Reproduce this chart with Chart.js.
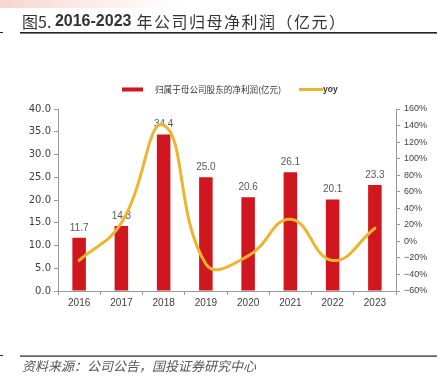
<!DOCTYPE html>
<html><head><meta charset="utf-8">
<script src="https://cdn.jsdelivr.net/npm/chart.js@4/dist/chart.umd.min.js"></script>
<style>html,body{margin:0;padding:0;background:#fff;} #c{display:block;}</style>
</head><body>
<canvas id="c" width="447" height="380"></canvas>
<script>
const categories = ['2016', '2017', '2018', '2019', '2020', '2021', '2022', '2023'];
const profitValues = [11.7, 14.3, 34.4, 25.0, 20.6, 26.1, 20.1, 23.3];
const yoyValues = [-23.0, 22.2, 140.6, -27.3, -17.6, 26.7, -23.0, 15.9];
const profitLabel = '归属于母公司股东的净利润(亿元)';
const yoyLabel = 'yoy';
const titlePrefix = '图5. ';
const titleYears = '2016-2023';
const titleRest = ' 年公司归母净利润（亿元）';
const sourceText = '资料来源：公司公告，国投证券研究中心';

const RED = '#D0161F';
const GOLD = '#EDB52F';
const CJK = '"Noto Sans CJK SC", "Liberation Sans", sans-serif';

const decor = {
  id: 'decor',
  beforeDraw(chart) {
    const ctx = chart.ctx;
    ctx.save();
    ctx.fillStyle = '#fff';
    ctx.fillRect(0, 0, chart.width, chart.height);
    const g = ctx.createLinearGradient(0, 0, 200, 0);
    g.addColorStop(0, 'rgba(238,160,150,0.45)');
    g.addColorStop(0.6, 'rgba(245,200,190,0.25)');
    g.addColorStop(1, 'rgba(255,255,255,0)');
    ctx.fillStyle = g;
    ctx.fillRect(0, 0, 200, 8);
    // title
    ctx.textBaseline = 'middle';
    ctx.fillStyle = '#333';
    let x = 22;
    const y = 21.5;
    ctx.font = '16px ' + CJK;
    ctx.fillText(titlePrefix, x, y);
    x += ctx.measureText(titlePrefix).width;
    ctx.font = 'bold 16px "Liberation Sans", sans-serif';
    ctx.fillText(titleYears, x, y);
    x += ctx.measureText(titleYears).width;
    ctx.font = '16px ' + CJK;
    ctx.letterSpacing = '1.5px';
    ctx.fillText(titleRest, x, y);
    ctx.letterSpacing = '0px';
    // rules
    ctx.fillStyle = '#222';
    ctx.fillRect(20, 32, 417, 1.6);
    ctx.fillRect(0, 32, 3, 1);
    ctx.fillRect(20, 355.5, 417, 1.2);
    ctx.fillRect(0, 355, 3, 1);
    // source
    ctx.fillStyle = '#555';
    ctx.font = 'italic 13px ' + CJK;
    ctx.fillText(sourceText, 22, 366);
    // legend
    ctx.fillStyle = RED;
    ctx.fillRect(122, 87.5, 21, 4);
    ctx.fillStyle = '#333';
    ctx.font = '8.6px ' + CJK;
    ctx.fillText(profitLabel, 155, 89.5);
    ctx.strokeStyle = GOLD;
    ctx.lineWidth = 3;
    ctx.beginPath();
    ctx.moveTo(299, 89.5);
    ctx.lineTo(323, 89.5);
    ctx.stroke();
    ctx.font = 'bold 8.5px "Liberation Sans", sans-serif';
    ctx.fillText(yoyLabel, 323, 90);
    ctx.restore();
  },
  beforeDatasetsDraw(chart) {
    const ctx = chart.ctx;
    const meta = chart.getDatasetMeta(0);
    ctx.save();
    ctx.fillStyle = '#595959';
    ctx.font = '10px "Liberation Sans", sans-serif';
    ctx.textAlign = 'center';
    ctx.textBaseline = 'middle';
    meta.data.forEach((el, i) => {
      ctx.fillText(profitValues[i].toFixed(1), el.x, el.y - 10);
    });
    ctx.restore();
  }
};

new Chart(document.getElementById('c'), {
  data: {
    labels: categories,
    datasets: [
      {
        type: 'bar', label: profitLabel, data: profitValues, yAxisID: 'y',
        backgroundColor: RED, barPercentage: 0.32, categoryPercentage: 1, order: 1
      },
      {
        type: 'line', label: yoyLabel, data: yoyValues, yAxisID: 'y1',
        borderColor: GOLD, borderWidth: 3, pointRadius: 0, tension: 0.45,
        fill: false, order: 0, borderCapStyle: 'round'
      }
    ]
  },
  options: {
    responsive: false,
    animation: false,
    devicePixelRatio: 1,
    layout: { padding: { top: 109, left: 0, right: 0, bottom: 0 } },
    plugins: { legend: { display: false }, tooltip: { enabled: false } },
    scales: {
      x: {
        offset: true,
        afterFit(s) { s.height = 89; },
        grid: { display: true, drawOnChartArea: false, drawTicks: true, tickLength: 4, offset: true, color: '#999' },
        border: { display: true, color: '#999' },
        ticks: { color: '#404040', font: { size: 10, family: '"Liberation Sans", sans-serif' }, padding: 2 }
      },
      y: {
        position: 'left', min: 0, max: 40,
        afterFit(s) { s.width = 58; },
        grid: { display: true, drawOnChartArea: false, drawTicks: true, tickLength: 4, color: '#999' },
        border: { display: true, color: '#999' },
        ticks: { stepSize: 5, color: '#404040', padding: 3,
          font: { size: 10, family: '"DejaVu Sans", sans-serif' },
          callback: v => v.toFixed(1) }
      },
      y1: {
        position: 'right', min: -60, max: 160,
        afterFit(s) { s.width = 51; },
        grid: { display: true, drawOnChartArea: false, drawTicks: true, tickLength: 4, color: '#999' },
        border: { display: true, color: '#999' },
        ticks: { stepSize: 20, color: '#404040', padding: 4,
          font: { size: 9, family: '"Liberation Sans", sans-serif' },
          callback: v => (v < 0 ? '\u2212' + Math.abs(v) : v) + '%' }
      }
    }
  },
  plugins: [decor]
});
</script>
</body></html>
